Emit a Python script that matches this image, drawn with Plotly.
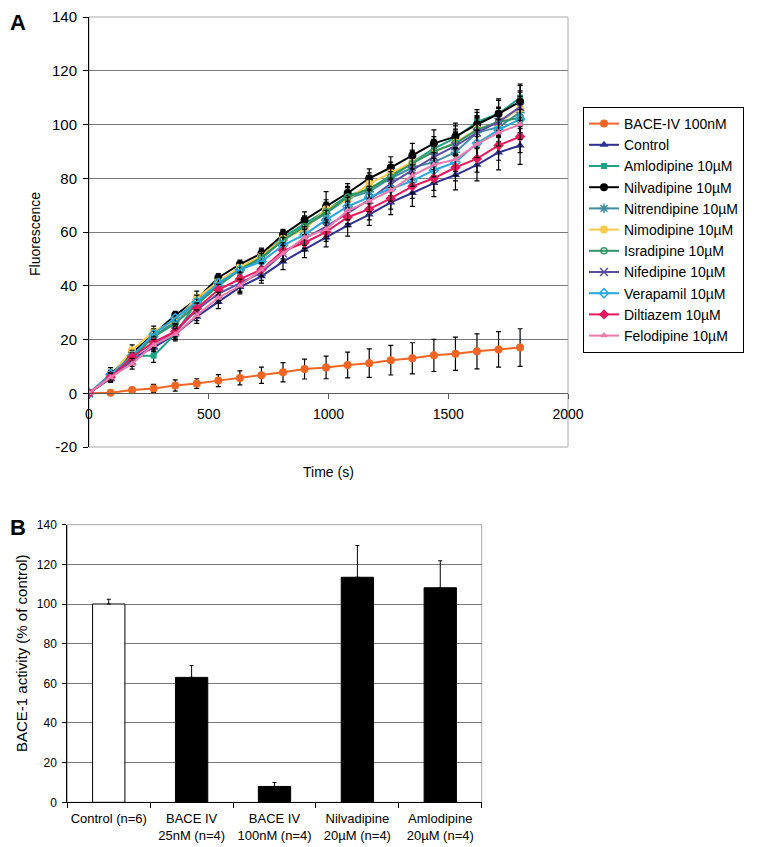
import plotly.graph_objects as go

FONT = "Liberation Sans, Arial, sans-serif"
# The page body adds an 8px margin, so the figure is drawn 8px smaller and
# all layout positions below are given in window pixels minus that offset.
OFF = 8
W, H = 758 - OFF, 847 - OFF


def px(x):
    return (x - OFF) / W


def py(y):
    return 1 - (y - OFF) / H


# ---------------- Panel A data ----------------
time_s = [0, 90, 180, 270, 360, 450, 540, 630, 720, 810, 900, 990,
          1080, 1170, 1260, 1350, 1440, 1530, 1620, 1710, 1800]

bace_iv = [0, 0.2, 1.2, 1.8, 2.9, 3.6, 4.7, 5.7, 6.7, 7.8, 9.0, 9.6,
           10.5, 11.2, 12.3, 13.0, 14.1, 14.7, 15.6, 16.3, 17.0]
control = [0, 5.5, 13, 17, 22, 28.5, 34, 39.5, 43.5, 49, 53.5, 58,
           62.5, 66.5, 71, 74.5, 78.2, 81.2, 85, 89.6, 92.2]
amlodipine = [0, 6, 14, 14, 22, 34, 41, 46.5, 51, 58, 63, 68,
              73.5, 76, 81, 86, 91, 95, 101, 104, 110]
nilvadipine = [0, 7, 15, 22, 29, 35, 43, 48, 52, 59, 64.5, 69.5,
               74.5, 80, 84, 88.5, 93, 95.5, 100, 104, 108.5]
nitrendipine = [0, 6, 14, 21, 27, 34, 40, 46, 50, 57, 62, 67,
                72.5, 75, 80, 84, 86, 89.7, 97, 99, 104.5]
nimodipine = [0, 6.5, 16, 23, 27, 35.5, 41.5, 47, 51, 57.5, 61, 68.5,
              72, 78, 82, 86, 89.7, 93.3, 98.3, 100.7, 106]
isradipine = [0, 6, 13, 21, 26, 33, 40, 46, 50.5, 57, 62, 67.5,
              73, 76, 80.5, 85.5, 90, 93, 98, 101, 102.5]
nifedipine = [0, 6, 12, 18, 23, 31, 37, 41, 45, 52, 57.5, 62,
              67, 72, 78, 83, 88, 92, 97, 101, 106.5]
verapamil = [0, 7, 14, 22, 28, 34, 41, 46, 49, 55, 59, 64.5,
             69.5, 73, 76, 79, 83, 86, 93, 98, 102]
diltiazem = [0, 6, 13.5, 19, 23, 31.5, 38.5, 42.5, 46, 53, 56, 60,
             65.5, 68.5, 72.5, 77, 80, 84, 87.3, 92.2, 95.5]
felodipine = [0, 6, 11, 18, 22, 29, 35.5, 40, 46, 52, 58, 61,
              68, 71.5, 75.5, 81, 85, 87, 92.7, 97, 100]

err_bace = [0, 0.4, 0.9, 1.5, 2.1, 1.8, 2.2, 2.6, 3.0, 3.6, 3.7, 4.2,
            4.8, 5.3, 5.5, 5.8, 6.0, 6.2, 6.5, 6.6, 7.0]
err_control = [0, 1.5, 2, 2.5, 2.5, 2.5, 2.5, 2.5, 2.5, 3, 3, 3.5,
               4, 4, 4.5, 5, 5, 5.5, 6, 6.5, 7]
err_amlodipine = [0, 1.5, 2, 2.5, 2, 2, 2, 2, 2.5, 2.5, 3, 3,
                  3.5, 3.5, 4, 4, 4.5, 4.5, 4.5, 5, 5]
err_nilvadipine = [0, 2.5, 2, 1.5, 1.5, 1.5, 1.5, 1.5, 2, 2, 3, 5.5,
                   3.5, 3.5, 4, 4.5, 5, 5, 4.5, 5.5, 6]
err_nitrendipine = [0, 2, 2, 2, 2.5, 2.5, 2.5, 3, 3, 3, 3.5, 3.5,
                    4, 4, 4.5, 4.5, 5, 5, 5.5, 5.5, 6]
err_nimodipine = [0, 2, 2, 2, 2.5, 2.5, 2, 2, 2.5, 3, 3, 3.5,
                  3.5, 4, 4, 4.5, 4.5, 5, 5, 5.5, 6]
err_isradipine = [0, 1.5, 2, 2, 2, 2, 2.5, 2.5, 2.5, 3, 3, 3.5,
                  3.5, 4, 4, 4, 4.5, 4.5, 5, 5, 5.5]
err_nifedipine = [0, 2, 2, 2.5, 2.5, 2.5, 2.5, 3, 3, 3, 3.5, 3.5,
                  4, 4, 4.5, 4.5, 5, 5, 5.5, 5.5, 6]
err_verapamil = [0, 1.5, 2, 2, 2, 2.5, 2.5, 2.5, 3, 3, 3, 3.5,
                 3.5, 4, 4, 4.5, 4.5, 5, 5, 5.5, 5.5]
err_diltiazem = [0, 1.5, 1.5, 2, 2, 2, 2, 2.5, 2.5, 3, 3, 3.5,
                 3.5, 4, 4, 4.5, 4.5, 5, 5, 5.5, 6]
err_felodipine = [0, 1.5, 2, 2, 2, 2, 2, 2.5, 2.5, 3, 3, 3.5,
                  3.5, 4, 4, 4, 4.5, 4.5, 5, 5, 5.5]

a_yticks = [-20, 0, 20, 40, 60, 80, 100, 120, 140]
a_yticklabels = ["-20", "0", "20", "40", "60", "80", "100", "120", "140"]
a_xticks = [0, 500, 1000, 1500, 2000]

# ---------------- Panel B data ----------------
b_categories = ["Control (n=6)", "BACE IV<br>25nM (n=4)", "BACE IV<br>100nM (n=4)",
                "Nilvadipine<br>20µM (n=4)", "Amlodipine<br>20µM (n=4)"]
b_values = [100, 63, 8, 113.5, 108.2]
b_errors = [2.4, 6, 2, 16, 13.6]
b_yticks = [0, 20, 40, 60, 80, 100, 120, 140]

# ---------------- Styles ----------------
series = [
    ("BACE-IV 100nM", bace_iv, err_bace, "#f26522", "circle", 8, 0),
    ("Control", control, err_control, "#2e3192", "triangle-up", 8, 0),
    ("Amlodipine 10µM", amlodipine, err_amlodipine, "#1aa386", "square", 6, 0),
    ("Nilvadipine 10µM", nilvadipine, err_nilvadipine, "#000000", "circle", 8, 0),
    ("Nitrendipine 10µM", nitrendipine, err_nitrendipine, "#3d8ea3", "asterisk", 8, 1.5),
    ("Nimodipine 10µM", nimodipine, err_nimodipine, "#f8c94a", "circle", 8, 0),
    ("Isradipine 10µM", isradipine, err_isradipine, "#2f9563", "circle-open", 6, 1.5),
    ("Nifedipine 10µM", nifedipine, err_nifedipine, "#5b4ea6", "x-thin", 8, 1.5),
    ("Verapamil 10µM", verapamil, err_verapamil, "#27a7dc", "diamond-open", 7, 1.5),
    ("Diltiazem 10µM", diltiazem, err_diltiazem, "#e8185c", "diamond", 8, 0),
    ("Felodipine 10µM", felodipine, err_felodipine, "#f07aae", "triangle-up", 7, 0),
]

fig = go.Figure()

for i, (name, vals, errs, col, sym, size, lw) in enumerate(series):
    marker = dict(symbol=sym, size=size, color=col)
    if lw:
        marker["line"] = dict(color=col, width=lw)
    fig.add_trace(go.Scatter(
        x=time_s, y=vals, name=name, mode="lines+markers",
        line=dict(color=col, width=2), marker=marker,
        error_y=dict(type="data", array=errs, visible=True, color="#000000",
                     thickness=1.2, width=2.5),
        legendgroup=f"g{i}", xaxis="x", yaxis="y",
    ))

bar_colors = ["#ffffff", "#000000", "#000000", "#000000", "#000000"]
fig.add_trace(go.Bar(
    x=b_categories, y=b_values, width=0.39,
    marker=dict(color=bar_colors, line=dict(color="#000000", width=1)),
    error_y=dict(type="data", symmetric=False, array=b_errors,
                 arrayminus=[0] * len(b_errors), color="#000000",
                 thickness=1, width=2),
    showlegend=False, xaxis="x2", yaxis="y2",
))

# domains (window-pixel positions converted to paper fractions)
ax_l, ax_r = px(89), px(568)
ay_b, ay_t = py(447), py(17)
bx_l, bx_r = px(67.3), px(481.7)
by_b, by_t = py(802.3), py(524.7)
a_zero_pos = ay_b + (0 - (-20)) / 160 * (ay_t - ay_b)

grid_col = "#7a7a7a"
fig.update_layout(
    width=W, height=H,
    margin=dict(l=0, r=0, t=0, b=0, autoexpand=False),
    paper_bgcolor="white", plot_bgcolor="white",
    font=dict(family=FONT, color="#000000"),
    showlegend=True,
    legend=dict(x=px(583), y=py(107), xanchor="left", yanchor="top",
                bordercolor="#000000", borderwidth=1, bgcolor="white",
                font=dict(size=14, family=FONT), tracegroupgap=0,
                itemwidth=30),
    xaxis=dict(domain=[ax_l, ax_r], range=[0, 2000], tickvals=a_xticks,
               anchor="free", position=a_zero_pos, automargin=False,
               ticklabeloverflow="allow",
               showgrid=False, zeroline=False, showline=True,
               linecolor="#5a5a5a", linewidth=1, ticks="outside", ticklen=5,
               tickcolor="#5a5a5a", tickfont=dict(size=14), ticklabelstandoff=3),
    yaxis=dict(domain=[ay_b, ay_t], range=[-20, 140], tickvals=a_yticks,
               ticktext=a_yticklabels, automargin=False, ticklabeloverflow="allow",
               anchor="x", showgrid=True, gridcolor=grid_col, gridwidth=1,
               zeroline=False, showline=True, linecolor="#000000", linewidth=1,
               ticks="outside", ticklen=5, tickcolor="#000000",
               tickfont=dict(size=15), ticklabelstandoff=3),
    xaxis2=dict(domain=[bx_l, bx_r], anchor="y2", type="category", automargin=False,
                ticklabeloverflow="allow",
                showgrid=False, zeroline=False, showline=True,
                linecolor="#000000", linewidth=1, ticks="outside",
                tickson="boundaries", ticklen=5, tickcolor="#000000",
                tickangle=0, tickfont=dict(size=13), ticklabelstandoff=4),
    yaxis2=dict(domain=[by_b, by_t], range=[0, 140], tickvals=b_yticks,
                anchor="x2", automargin=False, ticklabeloverflow="allow",
                showgrid=True, gridcolor=grid_col,
                gridwidth=1, zeroline=False, showline=True, linecolor="#000000",
                linewidth=1, ticks="outside", ticklen=4, tickcolor="#000000",
                tickfont=dict(size=12), ticklabelstandoff=3),
    bargap=0.6,
)

# plot-area frames (grey), drawn behind data
for xr, yr in (("x domain", "y domain"), ("x2 domain", "y2 domain")):
    fig.add_shape(type="rect", xref=xr, yref=yr, x0=0, x1=1, y0=0, y1=1,
                  line=dict(color="#a8a8a8", width=1), layer="below")

# panel labels and axis titles
fig.add_annotation(text="<b>A</b>", xref="paper", yref="paper", x=px(8), y=py(8),
                   xanchor="left", yanchor="top", showarrow=False,
                   font=dict(size=22, family=FONT))
fig.add_annotation(text="<b>B</b>", xref="paper", yref="paper", x=px(8), y=py(513),
                   xanchor="left", yanchor="top", showarrow=False,
                   font=dict(size=22, family=FONT))
fig.add_annotation(text="Fluorescence", xref="paper", yref="paper", x=px(35),
                   y=py(234), textangle=-90, showarrow=False,
                   xanchor="center", yanchor="middle", font=dict(size=14, family=FONT))
fig.add_annotation(text="Time (s)", xref="paper", yref="paper", x=(ax_l + ax_r) / 2,
                   y=py(472), showarrow=False, xanchor="center", yanchor="middle",
                   font=dict(size=14, family=FONT))
fig.add_annotation(text="BACE-1 activity (% of control)", xref="paper", yref="paper",
                   x=px(21), y=py(653), textangle=-90, showarrow=False,
                   xanchor="center", yanchor="middle", font=dict(size=15, family=FONT))

fig.write_html("out.html")
